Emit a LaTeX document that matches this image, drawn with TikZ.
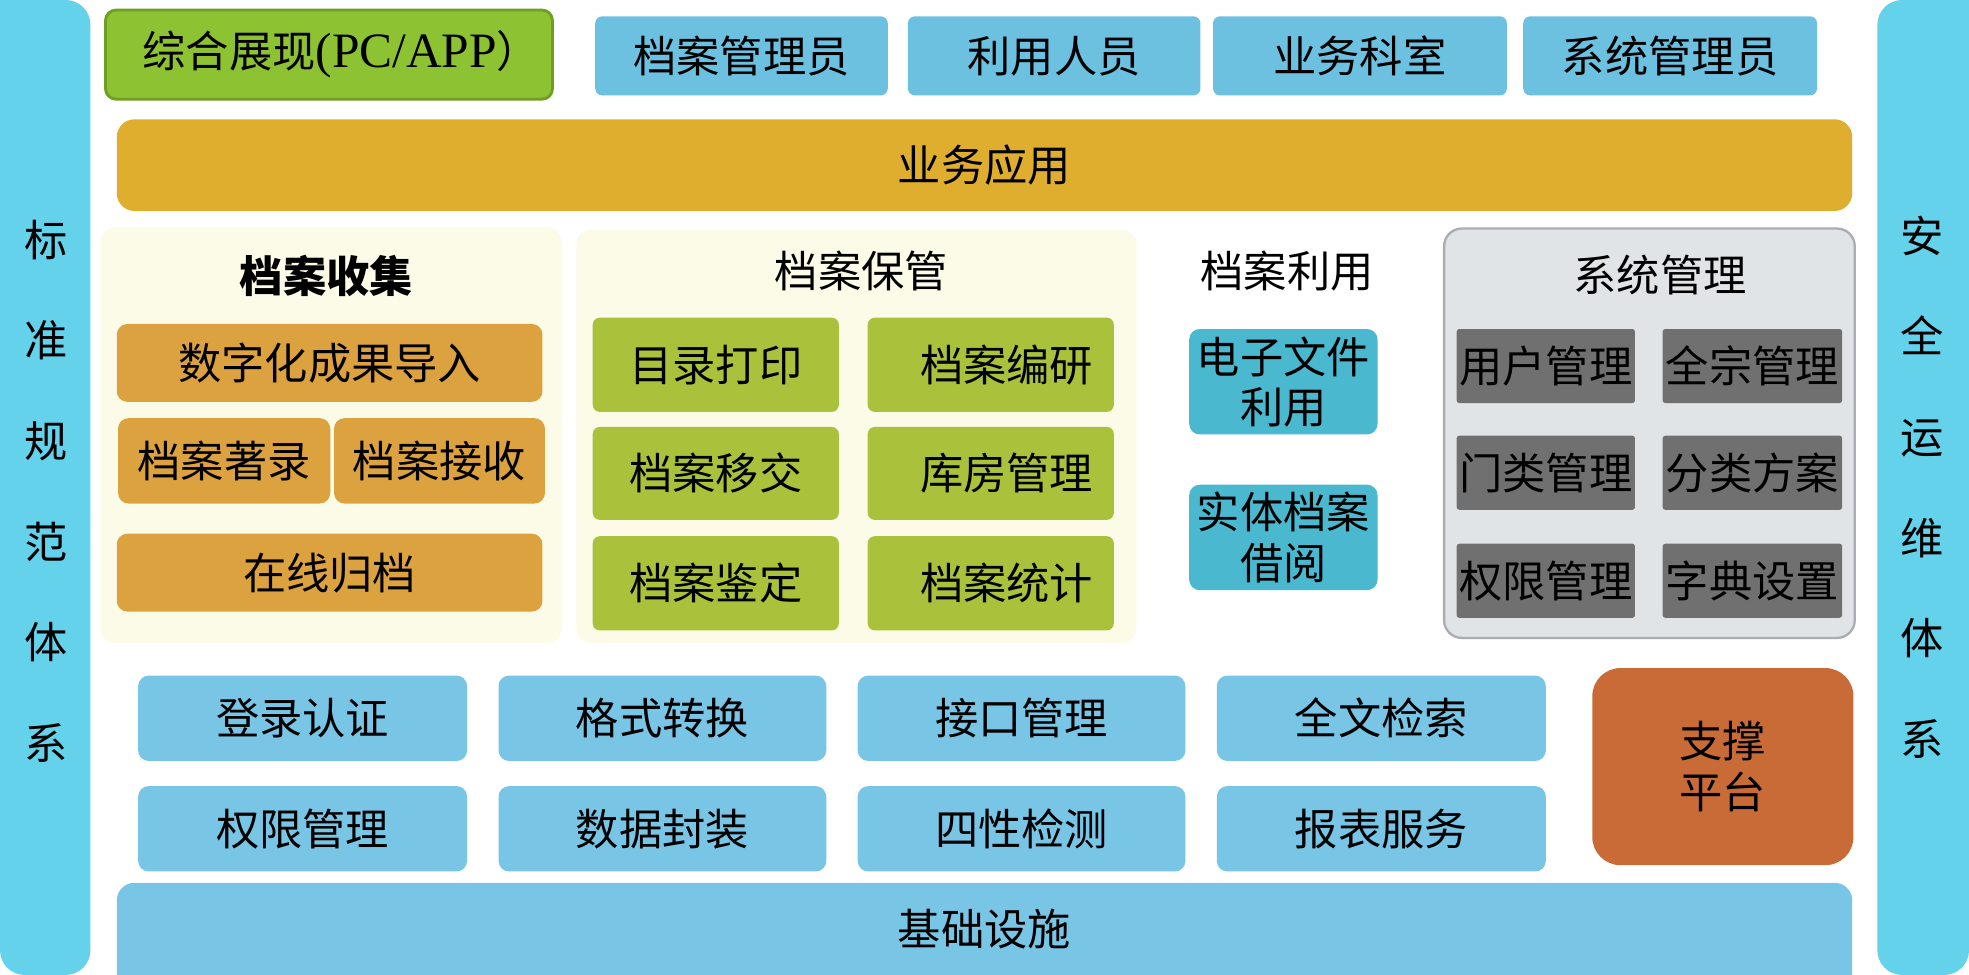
\documentclass[tikz,border=0pt]{standalone}
\usepackage{fontspec}
\setmainfont{Liberation Serif}
\newfontfamily\cjk{Noto Sans CJK SC}
\definecolor{sidec}{HTML}{65D2EC}
\definecolor{topb}{HTML}{6CC1E1}
\definecolor{zgreen}{HTML}{8DC232}
\definecolor{zgreenline}{HTML}{6E9E22}
\definecolor{goldc}{HTML}{E0AE2F}
\definecolor{creamc}{HTML}{FBFBE8}
\definecolor{orangec}{HTML}{DCA240}
\definecolor{greenc}{HTML}{AAC23B}
\definecolor{tealc}{HTML}{4AB8CF}
\definecolor{grayp}{HTML}{E1E4E7}
\definecolor{graypline}{HTML}{A9ADB1}
\definecolor{darkc}{HTML}{707070}
\definecolor{botb}{HTML}{78C5E5}
\definecolor{suppc}{HTML}{C96B37}
\newcommand\mybox[7]{\node[#6, minimum width={(#4-#2)*0.025cm}, minimum height={(#5-#3)*0.025cm}] (#1) at ({(#2+#4)/2},{(#3+#5)/2}) {#7};}
\begin{document}
\begin{tikzpicture}[x=0.025cm,y=-0.025cm,
  lbl/.style={font=\cjk\fontsize{24.5}{28.5}\selectfont, text=black, inner sep=0pt, align=center},
  topblue/.style={lbl, fill=topb, rounded corners=4pt},
  greenbig/.style={lbl, fill=zgreen, draw=zgreenline, line width=1.6pt, rounded corners=6pt},
  goldbar/.style={lbl, fill=goldc, rounded corners=10pt},
  panel/.style={fill=creamc, rounded corners=8pt, inner sep=0pt},
  orangebox/.style={lbl, fill=orangec, rounded corners=6pt},
  greenbox/.style={lbl, fill=greenc, rounded corners=4pt},
  tealbox/.style={lbl, fill=tealc, rounded corners=6pt},
  graypanel/.style={fill=grayp, draw=graypline, line width=1.3pt, rounded corners=10pt, inner sep=0pt},
  darkbox/.style={lbl, fill=darkc, rounded corners=1.5pt},
  botbox/.style={lbl, fill=botb, rounded corners=6pt},
  suppbox/.style={lbl, fill=suppc, rounded corners=16pt},
  sidetext/.style={font=\cjk\fontsize{24.5}{57}\selectfont, text=black, inner sep=0pt, align=center},
]
\useasboundingbox[fill=white] (0,0) rectangle (1568,776.4);

% side bars
\fill[sidec] (0,0) [rounded corners=14pt] -- (72,0) -- (72,776.4) -- (0,776.4) [sharp corners] -- cycle;
\fill[sidec] (1568,0) [rounded corners=14pt] -- (1495,0) -- (1495,776.4) -- (1568,776.4) [sharp corners] -- cycle;
\node[sidetext] (std) at (37,391) {标\\准\\规\\范\\体\\系};
\node[sidetext] (sec) at (1531,388) {安\\全\\运\\维\\体\\系};

% top row
\mybox{zhanxian}{84}{8}{440}{79}{greenbig}{\hspace*{14pt}综合展现{\rmfamily\fontsize{28}{30}\selectfont (PC/APP}）}
\mybox{dagly}{474}{13}{707}{76}{topblue}{档案管理员}
\mybox{lyry}{723}{13}{956}{76}{topblue}{利用人员}
\mybox{ywks}{966}{13}{1200}{76}{topblue}{业务科室}
\mybox{xtgly}{1213}{13}{1447}{76}{topblue}{系统管理员}

% business app
\mybox{ywyy}{93}{95}{1475}{168}{goldbar}{业务应用}

% archive collection
\mybox{psj}{80}{181}{447}{512}{panel}{}
\node[lbl, font=\cjk\bfseries\fontsize{24.5}{28.5}\selectfont] (tsj) at (260,220) {档案收集};
\mybox{szh}{93}{258}{432}{320}{orangebox}{数字化成果导入}
\mybox{zl}{94}{333}{263}{401}{orangebox}{档案著录}
\mybox{js}{266}{333}{434}{401}{orangebox}{档案接收}
\mybox{zxgd}{93}{425}{432}{487}{orangebox}{在线归档}

% archive keeping
\mybox{pbg}{459}{183}{905}{512}{panel}{}
\node[lbl] (tbg) at (686,216) {档案保管};
\mybox{mldy}{472}{253}{668}{328}{greenbox}{目录打印}
\mybox{day}{691}{253}{887}{328}{greenbox}{\hspace*{18pt}档案编研}
\mybox{dayj}{472}{340}{668}{414}{greenbox}{档案移交}
\mybox{kfgl}{691}{340}{887}{414}{greenbox}{\hspace*{18pt}库房管理}
\mybox{dajd}{472}{427}{668}{502}{greenbox}{档案鉴定}
\mybox{datj}{691}{427}{887}{502}{greenbox}{\hspace*{18pt}档案统计}

% archive use
\node[lbl] (tly) at (1025,216) {档案利用};
\mybox{dzwj}{947}{262}{1097}{346}{tealbox}{电子文件\\利用}
\mybox{stda}{947}{386}{1097}{470}{tealbox}{实体档案\\借阅}

% system management
\mybox{pxt}{1150}{182}{1477}{508}{graypanel}{}
\node[lbl] (txt) at (1322,219) {系统管理};
\mybox{yhgl}{1160}{262}{1302}{321}{darkbox}{用户管理}
\mybox{qzgl}{1324}{262}{1467}{321}{darkbox}{全宗管理}
\mybox{mlgl}{1160}{347}{1302}{406}{darkbox}{门类管理}
\mybox{flfa}{1324}{347}{1467}{406}{darkbox}{分类方案}
\mybox{qxgl}{1160}{433}{1302}{492}{darkbox}{权限管理}
\mybox{zdsz}{1324}{433}{1467}{492}{darkbox}{字典设置}

% support services
\mybox{dlrz}{110}{538}{372}{606}{botbox}{登录认证}
\mybox{gszh}{397}{538}{658}{606}{botbox}{格式转换}
\mybox{jkgl}{683}{538}{944}{606}{botbox}{接口管理}
\mybox{qwjs}{969}{538}{1231}{606}{botbox}{全文检索}
\mybox{qxgl2}{110}{626}{372}{694}{botbox}{权限管理}
\mybox{sjfz}{397}{626}{658}{694}{botbox}{数据封装}
\mybox{sxjc}{683}{626}{944}{694}{botbox}{四性检测}
\mybox{bbfw}{969}{626}{1231}{694}{botbox}{报表服务}
\mybox{zcpt}{1268}{532}{1476}{689}{suppbox}{支撑\\平台}

% infrastructure
\fill[botb] (93,776.4) [rounded corners=10pt] -- (93,703) -- (1475,703) [sharp corners] -- (1475,776.4) -- cycle;
\node[lbl] (jcss) at (784,740) {基础设施};
\end{tikzpicture}
\end{document}
